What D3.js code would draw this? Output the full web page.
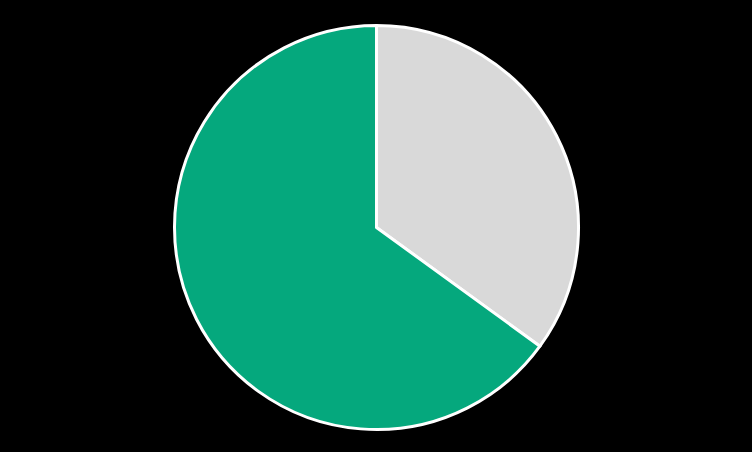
<!DOCTYPE html>
<html>
<head>
<meta charset="utf-8">
<script src="https://cdn.jsdelivr.net/npm/d3@7"></script>
<style>
  html, body { margin: 0; padding: 0; background: #000; }
</style>
</head>
<body>
<div id="chart"></div>
<script>
// two-slice pie, gray share first (starts at 12 o'clock, clockwise)
const labels = ["Other", "Share"];
const values = [35, 65];
const colors = ["#d9d9d9", "#05a87d"];

const width = 752, height = 452;
const cx = 376.5, cy = 227.5, radius = 202;

const svg = d3.select("#chart")
  .append("svg")
  .attr("width", width)
  .attr("height", height)
  .style("display", "block");

svg.append("rect")
  .attr("width", width)
  .attr("height", height)
  .attr("fill", "#000");

const g = svg.append("g")
  .attr("transform", `translate(${cx},${cy})`);

const pie = d3.pie().sort(null).value(d => d);
const arc = d3.arc().innerRadius(0).outerRadius(radius);

g.selectAll("path")
  .data(pie(values))
  .enter()
  .append("path")
  .attr("d", arc)
  .attr("fill", (d, i) => colors[i])
  .attr("stroke", "#fff")
  .attr("stroke-width", 3)
  .attr("stroke-linejoin", "round")
  .append("title")
  .text((d, i) => labels[i] + ": " + values[i] + "%");
</script>
</body>
</html>
